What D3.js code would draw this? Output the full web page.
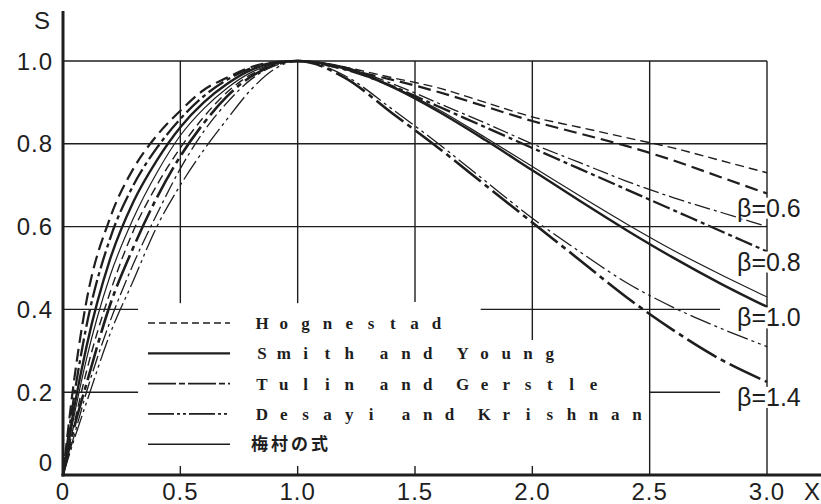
<!DOCTYPE html>
<html>
<head>
<meta charset="utf-8">
<script src="https://cdn.jsdelivr.net/npm/d3@7"></script>
<style>
  body { margin: 0; background: #fff; }
  svg { display: block; }
</style>
</head>
<body>
<svg id="chart" width="821" height="504"></svg>
<script>
// strain ratio X where the curves were read
let xPoints = [0, 0.05, 0.1, 0.2, 0.3, 0.4, 0.5, 0.6, 0.7, 0.8, 0.9, 1.0,
  1.2, 1.4, 1.6, 1.8, 2.0, 2.2, 2.4, 2.6, 2.8, 3.0];

// stress ratio S for each curve
let hognestadS = [0, 0.13, 0.25, 0.44, 0.59, 0.70, 0.79, 0.865, 0.925, 0.967, 0.992, 1,
  0.985, 0.96, 0.935, 0.90, 0.865, 0.84, 0.815, 0.79, 0.76, 0.73];
let beta06S = [0, 0.24, 0.42, 0.62, 0.74, 0.82, 0.88, 0.93, 0.96, 0.985, 0.997, 1,
  0.98, 0.955, 0.925, 0.89, 0.855, 0.825, 0.795, 0.76, 0.72, 0.68];
let desayiS = [0, 0.10, 0.20, 0.37, 0.51, 0.63, 0.74, 0.83, 0.90, 0.955, 0.988, 1,
  0.984, 0.946, 0.898, 0.85, 0.80, 0.755, 0.71, 0.67, 0.635, 0.60];
let beta08S = [0, 0.20, 0.36, 0.57, 0.70, 0.79, 0.86, 0.915, 0.955, 0.982, 0.996, 1,
  0.98, 0.94, 0.89, 0.84, 0.79, 0.74, 0.69, 0.64, 0.59, 0.54];
let umemuraS = [0, 0.15, 0.28, 0.48, 0.62, 0.73, 0.82, 0.885, 0.935, 0.972, 0.993, 1,
  0.986, 0.94, 0.883, 0.815, 0.745, 0.675, 0.607, 0.543, 0.485, 0.43];
let smithYoungS = [0, 0.17, 0.31, 0.52, 0.66, 0.76, 0.84, 0.90, 0.945, 0.978, 0.995, 1,
  0.982, 0.938, 0.878, 0.809, 0.736, 0.663, 0.592, 0.525, 0.463, 0.406];
let tulinS = [0, 0.09, 0.175, 0.34, 0.47, 0.60, 0.70, 0.785, 0.86, 0.93, 0.98, 1,
  0.965, 0.885, 0.80, 0.71, 0.62, 0.54, 0.465, 0.405, 0.355, 0.31];
let beta14S = [0, 0.12, 0.22, 0.41, 0.55, 0.67, 0.77, 0.85, 0.915, 0.962, 0.99, 1,
  0.96, 0.875, 0.79, 0.70, 0.61, 0.52, 0.43, 0.35, 0.28, 0.225];

let xTicks = [0, 0.5, 1.0, 1.5, 2.0, 2.5, 3.0];
let yTicks = [0, 0.2, 0.4, 0.6, 0.8, 1.0];
let betaLabels = ['β=0.6', 'β=0.8', 'β=1.0', 'β=1.4'];
let betaAt = [0.645, 0.515, 0.38, 0.188];   // S level where each label sits
let legendNames = ['Hognestad', 'Smith and Young', 'Tulin and Gerstle', 'Desayi and Krishnan', '梅村の式'];

let ink = '#1e1e1e';
let svg = d3.select('#chart');

let xScale = d3.scaleLinear().domain([0, 3]).range([63, 767]);
let yScale = d3.scaleLinear().domain([0, 1]).range([475, 61]);

// grid (broken around the legend like the original)
let hGrid = [
  [1.0, 0, 3], [0.8, 0, 3], [0.6, 0, 3],
  [0.4, 0, 0.32], [0.4, 1.78, 2.8],
  [0.2, 0, 0.32], [0.2, 2.5, 2.8]
];
svg.selectAll('line.hgrid').data(hGrid).enter().append('line')
  .attr('class', 'hgrid')
  .attr('x1', d => xScale(d[1])).attr('x2', d => xScale(d[2]))
  .attr('y1', d => yScale(d[0])).attr('y2', d => yScale(d[0]))
  .style('stroke', ink).style('stroke-width', 1.4);

let vGrid = [[0.5, 0.415], [1.0, 0.415], [1.5, 0.418], [2.0, 0.326], [2.5, 0], [3.0, 0]];
svg.selectAll('line.vgrid').data(vGrid).enter().append('line')
  .attr('class', 'vgrid')
  .attr('x1', d => xScale(d[0])).attr('x2', d => xScale(d[0]))
  .attr('y1', yScale(1)).attr('y2', d => yScale(d[1]))
  .style('stroke', ink).style('stroke-width', 1.4);

// short ticks on the x axis
svg.selectAll('line.xtick').data([0.5, 1.0, 1.5, 2.0]).enter().append('line')
  .attr('x1', d => xScale(d)).attr('x2', d => xScale(d))
  .attr('y1', 466).attr('y2', 475)
  .style('stroke', ink).style('stroke-width', 1.4);

// curves
let series = [
  {s: hognestadS, w: 1.4, dash: '9,5'},
  {s: beta06S, w: 2.2, dash: '13,6'},
  {s: desayiS, w: 1.3, dash: '16,4,3,4'},
  {s: beta08S, w: 2.3, dash: '18,4,4,4'},
  {s: umemuraS, w: 1.2, dash: null},
  {s: smithYoungS, w: 2.4, dash: null},
  {s: tulinS, w: 1.3, dash: '22,4,3,4,3,4'},
  {s: beta14S, w: 2.6, dash: '34,5,5,5'}
];
let lineGen = d3.line()
  .x(d => xScale(d[0]))
  .y(d => yScale(d[1]))
  .curve(d3.curveMonotoneX);

svg.selectAll('path.curve').data(series).enter().append('path')
  .attr('class', 'curve')
  .attr('d', d => lineGen(xPoints.map((x, i) => [x, d.s[i]])))
  .style('fill', 'none')
  .style('stroke', ink)
  .style('stroke-width', d => d.w)
  .style('stroke-dasharray', d => d.dash);

// beta labels, with a white patch so the 3.0 gridline breaks behind them
let bGroup = svg.selectAll('g.beta').data(betaLabels).enter().append('g')
  .attr('class', 'beta');
bGroup.append('rect').style('fill', '#fff');
bGroup.append('text')
  .attr('x', 737)
  .attr('y', (d, i) => yScale(betaAt[i]))
  .attr('dy', '0.35em')
  .style('font-family', 'Liberation Sans, Arial, sans-serif')
  .style('font-size', '25px')
  .style('fill', ink)
  .text(d => d);
bGroup.each(function () {
  let g = d3.select(this);
  let bb = g.select('text').node().getBBox();
  g.select('rect').attr('x', bb.x - 1).attr('y', bb.y + 4)
    .attr('width', bb.width + 2).attr('height', bb.height - 7);
});

// axes
svg.append('line')
  .attr('x1', xScale(0)).attr('x2', xScale(0))
  .attr('y1', 11).attr('y2', yScale(0) + 1.5)
  .style('stroke', ink).style('stroke-width', 3);
svg.append('line')
  .attr('x1', xScale(0) - 1.5).attr('x2', 821)
  .attr('y1', yScale(0)).attr('y2', yScale(0))
  .style('stroke', ink).style('stroke-width', 3);

svg.selectAll('text.ylab').data(yTicks).enter().append('text')
  .attr('class', 'ylab')
  .attr('x', 53)
  .attr('y', d => d == 0 ? 462 : yScale(d))
  .attr('dy', '0.36em')
  .attr('text-anchor', 'end')
  .style('font-family', 'Liberation Sans, Arial, sans-serif')
  .style('font-size', '24px')
  .style('letter-spacing', '1px')
  .style('fill', ink)
  .text(d => d == 0 ? '0' : d.toFixed(1));

svg.selectAll('text.xlab').data(xTicks).enter().append('text')
  .attr('class', 'xlab')
  .attr('x', d => xScale(d))
  .attr('y', 500)
  .attr('text-anchor', 'middle')
  .style('font-family', 'Liberation Sans, Arial, sans-serif')
  .style('font-size', '24px')
  .style('letter-spacing', '1px')
  .style('fill', ink)
  .text(d => d == 0 ? '0' : d.toFixed(1));

svg.append('text').attr('x', 42).attr('y', 29).attr('text-anchor', 'middle')
  .style('font-family', 'Liberation Sans, Arial, sans-serif')
  .style('font-size', '24px').style('fill', ink).text('S');
svg.append('text').attr('x', 812).attr('y', 500).attr('text-anchor', 'middle')
  .style('font-family', 'Liberation Sans, Arial, sans-serif')
  .style('font-size', '24px').style('fill', ink).text('X');

// legend
let legendDash = ['7,4', null, '28,3,6,3', '26,3,3,3,3,3', null];
let legendWidth = [1.6, 2.2, 1.8, 1.8, 1.6];
let legend = svg.selectAll('g.legend').data(legendNames).enter().append('g')
  .attr('class', 'legend')
  .attr('transform', (d, i) => `translate(0, ${323 + i * 30.3})`);
legend.append('line')
  .attr('x1', 148).attr('x2', 230)
  .style('stroke', ink)
  .style('stroke-width', (d, i) => legendWidth[i])
  .style('stroke-dasharray', (d, i) => legendDash[i]);

// typewriter spacing: every letter gets its own slot, words a little further apart
let pitch = 21.8;
legend.filter((d, i) => i < 4).append('text')
  .attr('dy', '0.35em')
  .attr('text-anchor', 'middle')
  .attr('x', d => {
    let xs = [];
    let pos = 262;
    for (let c of d) {
      if (c == ' ') { pos += pitch * 0.6; continue; }
      xs.push(pos.toFixed(1));
      pos += pitch;
    }
    return xs.join(' ');
  })
  .style('font-family', 'Liberation Serif, serif')
  .style('font-weight', 'bold')
  .style('font-size', '17px')
  .style('fill', ink)
  .text(d => d.replace(/ /g, ''));
legend.filter((d, i) => i == 4).append('text')
  .attr('x', 251)
  .attr('dy', '0.35em')
  .style('font-family', 'Noto Sans CJK JP, sans-serif')
  .style('font-weight', 'bold')
  .style('font-size', '17px')
  .style('letter-spacing', '3px')
  .style('fill', ink)
  .text(d => d);
</script>
</body>
</html>
